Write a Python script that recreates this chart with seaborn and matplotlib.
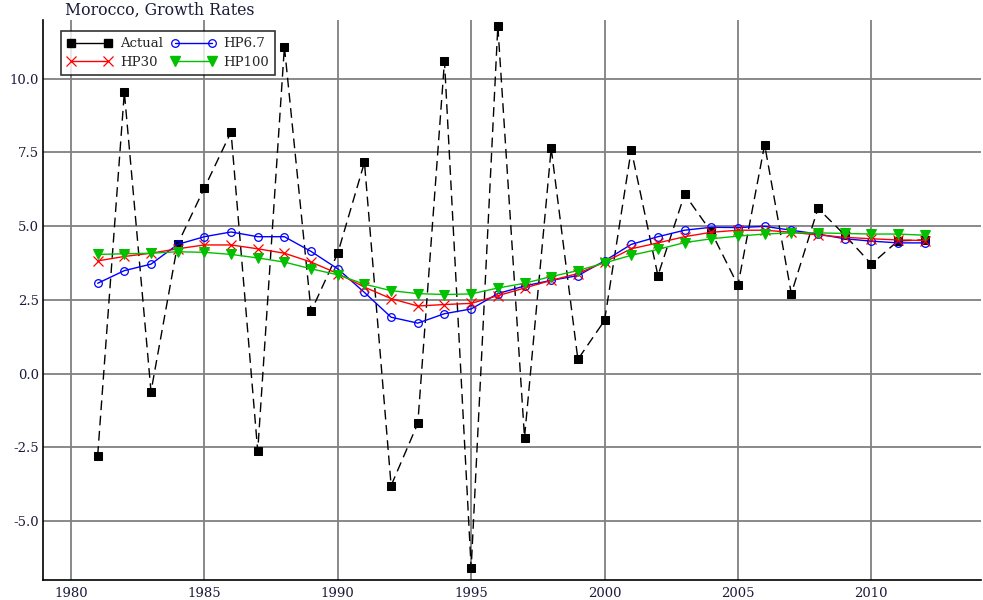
import matplotlib
matplotlib.use("Agg")
import matplotlib.pyplot as plt
import seaborn as sns
import pandas as pd
import numpy as np
from matplotlib.ticker import MultipleLocator
from matplotlib.lines import Line2D

years = list(range(1981, 2013))
actual = [-2.79, 9.54, -0.61, 4.39, 6.29, 8.19, -2.63, 11.08, 2.11, 4.08,
          7.16, -3.80, -1.69, 10.59, -6.60, 11.78, -2.17, 7.64, 0.48, 1.80,
          7.59, 3.32, 6.08, 4.80, 2.99, 7.76, 2.71, 5.60, 4.70, 3.71,
          4.50, 4.53]
hp67 = [3.06, 3.49, 3.71, 4.38, 4.64, 4.80, 4.64, 4.64, 4.14, 3.55,
        2.75, 1.91, 1.71, 2.03, 2.19, 2.71, 2.97, 3.16, 3.32, 3.82,
        4.38, 4.64, 4.86, 4.96, 4.95, 4.99, 4.86, 4.73, 4.57, 4.49,
        4.43, 4.43]
hp30 = [3.82, 3.97, 4.08, 4.23, 4.36, 4.36, 4.23, 4.08, 3.78, 3.39,
        2.93, 2.54, 2.29, 2.34, 2.38, 2.64, 2.90, 3.16, 3.39, 3.78,
        4.23, 4.43, 4.64, 4.79, 4.86, 4.86, 4.79, 4.70, 4.62, 4.57,
        4.53, 4.51]
hp100 = [4.04, 4.06, 4.08, 4.13, 4.11, 4.04, 3.92, 3.78, 3.55, 3.35,
         3.03, 2.81, 2.71, 2.68, 2.70, 2.90, 3.06, 3.29, 3.49, 3.75,
         4.01, 4.21, 4.44, 4.57, 4.66, 4.73, 4.77, 4.77, 4.75, 4.73,
         4.73, 4.69]

df = pd.DataFrame({"Year": years, "Actual": actual, "HP6.7": hp67,
                   "HP30": hp30, "HP100": hp100})

sns.set_theme(style="white")
plt.rcParams["font.family"] = ["DejaVu Serif", "Liberation Serif"]

fig = plt.figure(figsize=(9.83, 6.0), dpi=100)
ax = fig.add_axes([0.0437, 0.0333, 0.954, 0.934])

ax.grid(True, which="major", color="#808080", linewidth=1.3)
ax.set_axisbelow(True)

sns.lineplot(data=df, x="Year", y="Actual", ax=ax, color="black",
             linewidth=1.0, marker="s", markersize=6, markeredgecolor="black",
             markerfacecolor="black", label="Actual")
sns.lineplot(data=df, x="Year", y="HP6.7", ax=ax, color="#0000ff",
             linewidth=1.0, marker="o", markersize=5.5, markerfacecolor="none",
             markeredgecolor="#0000ff", markeredgewidth=0.9, label="HP6.7")
sns.lineplot(data=df, x="Year", y="HP30", ax=ax, color="#ff0000",
             linewidth=1.0, marker="x", markersize=7, markeredgecolor="#ff0000",
             markeredgewidth=0.9, label="HP30")
sns.lineplot(data=df, x="Year", y="HP100", ax=ax, color="#00c000",
             linewidth=1.0, marker="v", markersize=7, markeredgecolor="#00c000",
             markerfacecolor="#00c000", label="HP100")

ax.lines[0].set_linestyle((0, (7, 4)))

ax.set_xlim(1978.95, 2014.1)
ax.set_ylim(-7, 12)
ax.xaxis.set_major_locator(MultipleLocator(5))
ax.xaxis.set_minor_locator(MultipleLocator(1))
ax.yaxis.set_major_locator(MultipleLocator(2.5))
ax.yaxis.set_minor_locator(MultipleLocator(0.5))
ax.yaxis.set_major_formatter(matplotlib.ticker.FormatStrFormatter("%.1f"))
ax.tick_params(axis="both", which="both", direction="in", color="black",
               labelsize=9.5, labelcolor="#1a1a3a")
ax.tick_params(axis="both", which="major", length=8, width=1.0)
ax.tick_params(axis="both", which="minor", length=5, width=1.0)
ax.tick_params(axis="x", pad=5)
ax.tick_params(axis="y", pad=3)
for s in ["top", "right"]:
    ax.spines[s].set_visible(False)
for s in ["left", "bottom"]:
    ax.spines[s].set_color("black")
    ax.spines[s].set_linewidth(1.2)
ax.set_xlabel("")
ax.set_ylabel("")

leg_handles = [
    Line2D([], [], color="black", lw=1.0, marker="s", markersize=6),
    Line2D([], [], color="#ff0000", lw=1.0, marker="x", markersize=7,
           markeredgewidth=0.9),
    Line2D([], [], color="#0000ff", lw=1.0, marker="o", markersize=5.5,
           markerfacecolor="none", markeredgewidth=0.9),
    Line2D([], [], color="#00c000", lw=1.0, marker="v", markersize=7),
]
leg_labels = ["Actual", "HP30", "HP6.7", "HP100"]
leg = ax.legend(leg_handles, leg_labels,
                loc="upper left", ncol=2, numpoints=2, fontsize=9.5,
                frameon=True, fancybox=False, edgecolor="black",
                bbox_to_anchor=(0.0195, 0.979), borderpad=0.45,
                handlelength=3.4, columnspacing=0.6, handletextpad=0.6,
                labelspacing=0.42, borderaxespad=0)
leg.get_frame().set_linewidth(1.2)

fig.text(0.066, 0.997, "Morocco, Growth Rates", ha="left", va="top",
         fontsize=11.3, color="#1a1a3a")

fig.savefig("out.png", dpi=100)
